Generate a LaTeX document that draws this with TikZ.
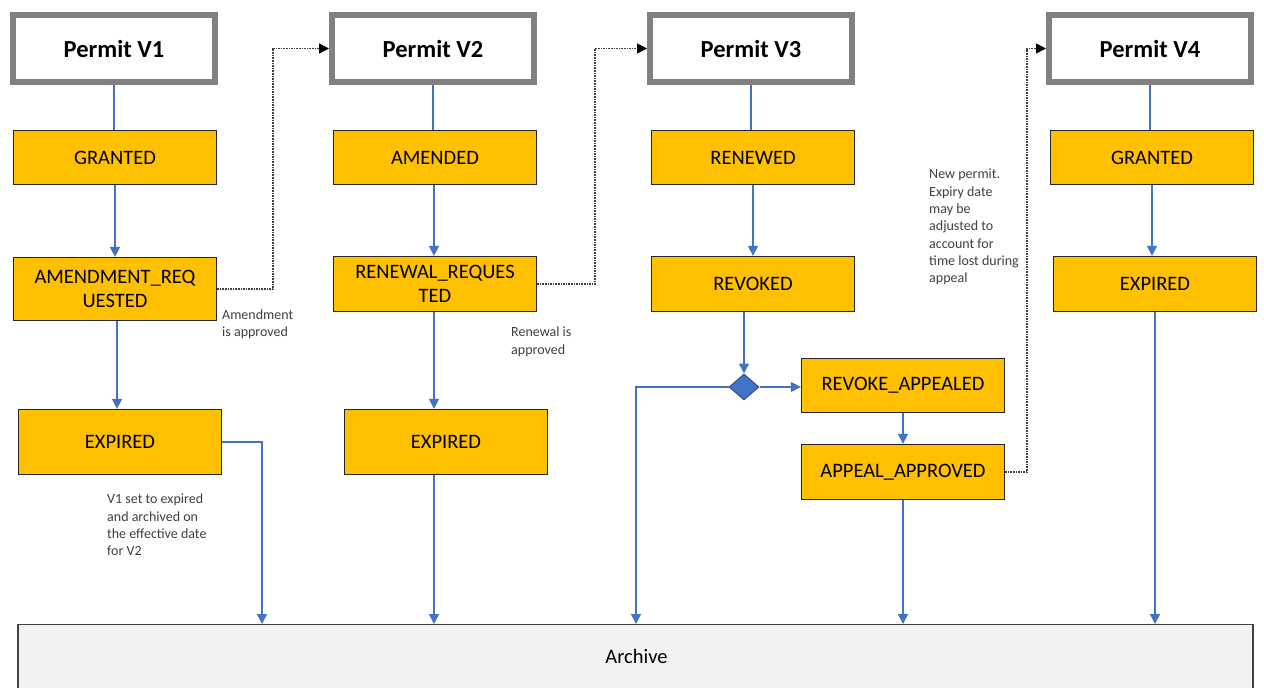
\documentclass[tikz,border=0pt]{standalone}
\usepackage{fontspec}
\setmainfont{Carlito}
\usetikzlibrary{arrows.meta,shapes.geometric,calc}
\definecolor{permitgray}{HTML}{808080}
\definecolor{stateorange}{HTML}{FFC000}
\definecolor{flowblue}{HTML}{4472C4}
\definecolor{diaborder}{HTML}{2F528F}
\definecolor{notegray}{HTML}{404040}
\definecolor{archfill}{HTML}{F2F2F2}
\definecolor{archborder}{HTML}{404040}
\begin{document}
\begin{tikzpicture}[x=1pt,y=-1pt,
 permitbox/.style={draw=permitgray, line width=6pt, fill=white, minimum width=202pt, minimum height=67pt, inner sep=0pt, font=\fontsize{24.5}{29}\selectfont\bfseries},
 statebox/.style={draw=black!85, line width=1.3pt, fill=stateorange, minimum width=203pt, minimum height=54pt, inner sep=0pt, align=center, font=\fontsize{20.5}{24.5}\selectfont},
 flow/.style={draw=flowblue, line width=1.4pt},
 flowarrow/.style={flow, -{Triangle[width=10pt,length=10pt]}},
 dotflow/.style={draw=notegray, line width=1.6pt, dash pattern=on 1.6pt off 1pt, -{Triangle[width=10pt,length=10pt,color=black]}},
 note/.style={text=notegray, align=left, inner sep=0pt, anchor=north west, font=\fontsize{14}{17.3}\selectfont},
]
\useasboundingbox (0,0) rectangle (1264,688);
\fill[white] (0,0) rectangle (1264,688);

% permit headers
\node[permitbox] (p1) at (114,48.5) {Permit V1};
\node[permitbox] (p2) at (433,48.5) {Permit V2};
\node[permitbox] (p3) at (751,48.5) {Permit V3};
\node[permitbox] (p4) at (1150,48.5) {Permit V4};

% states
\node[statebox] (g1) at (115,157.5) {GRANTED};
\node[statebox, minimum height=63pt] (ar1) at (115,289) {AMENDMENT\_REQ\\UESTED};
\node[statebox, minimum height=65pt] (e1) at (120,442) {EXPIRED};
\node[statebox] (am2) at (435,157.5) {AMENDED};
\node[statebox, minimum height=55pt] (rr2) at (435,284) {RENEWAL\_REQUES\\TED};
\node[statebox, minimum height=65pt] (e2) at (446,442) {EXPIRED};
\node[statebox] (rn3) at (753,157.5) {RENEWED};
\node[statebox, minimum height=55pt] (rv3) at (753,284) {REVOKED};
\node[diamond, fill=flowblue, draw=diaborder, line width=1pt, minimum width=30pt, minimum height=26pt, inner sep=0pt] (dia) at (744,387) {};
\node[statebox] (ra3) at (903,385.5) {REVOKE\_APPEALED};
\node[statebox, minimum height=55pt] (aa3) at (903,472) {APPEAL\_APPROVED};
\node[statebox] (g4) at (1152,157.5) {GRANTED};
\node[statebox, minimum height=55pt] (e4) at (1155,284) {EXPIRED};

% archive
\node[draw=archborder, line width=1.3pt, fill=archfill, minimum width=1235pt, minimum height=90pt, inner sep=0pt, anchor=north] (archive) at (635.5,624) {};
\node[font=\fontsize{20.5}{24}\selectfont, inner sep=0pt] (archivetext) at (636.5,656) {Archive};

\coordinate (x1) at (262,0);
\coordinate (x3) at (636,0);

% blue flows
\draw[flow] (p1.south) -- (p1.south |- g1.north);
\draw[flowarrow] (g1.south) -- (g1.south |- ar1.north);
\draw[flowarrow] ([xshift=2pt]ar1.south) -- ([xshift=2pt]ar1.south |- e1.north);
\draw[flowarrow] (e1.east) -| (x1 |- archive.north);
\draw[flow] (p2.south) -- (p2.south |- am2.north);
\draw[flowarrow] ([xshift=-1pt]am2.south) -- ([xshift=-1pt]am2.south |- rr2.north);
\draw[flowarrow] ([xshift=-1pt]rr2.south) -- ([xshift=-1pt]rr2.south |- e2.north);
\draw[flowarrow] ([xshift=-1pt]rr2.south |- e2.south) -- ([xshift=-1pt]rr2.south |- archive.north);
\draw[flow] (p3.south) -- (p3.south |- rn3.north);
\draw[flowarrow] (rn3.south) -- (rn3.south |- rv3.north);
\draw[flowarrow] (rv3.south -| dia.north) -- (dia.north);
\draw[flowarrow] (dia.east) -- (dia.east -| ra3.west);
\draw[flowarrow] (dia.west) -| (x3 |- archive.north);
\draw[flowarrow] (ra3.south) -- (ra3.south |- aa3.north);
\draw[flowarrow] (aa3.south) -- (aa3.south |- archive.north);
\draw[flow] (p4.south) -- (p4.south |- g4.north);
\draw[flowarrow] (g4.south) -- (g4.south |- e4.north);
\draw[flowarrow] (e4.south) -- (e4.south |- archive.north);

% dotted version transitions
\draw[dotflow] (ar1.east) -- ++(56,0) |- (p2.west);
\draw[dotflow] (rr2.east) -- ++(58,0) |- (p3.west);
\draw[dotflow] (aa3.east) -- ++(22,0) |- (p4.west);

% notes
\node[note] (n1) at (222,309.5) {Amendment\\is approved};
\node[note] (n2) at (511,327) {Renewal is\\approved};
\node[note] (n3) at (107,494) {V1 set to expired\\and archived on\\the effective date\\for V2};
\node[note] (n4) at (929,169) {New permit.\\Expiry date\\may be\\adjusted to\\account for\\time lost during\\appeal};
\end{tikzpicture}
\end{document}
